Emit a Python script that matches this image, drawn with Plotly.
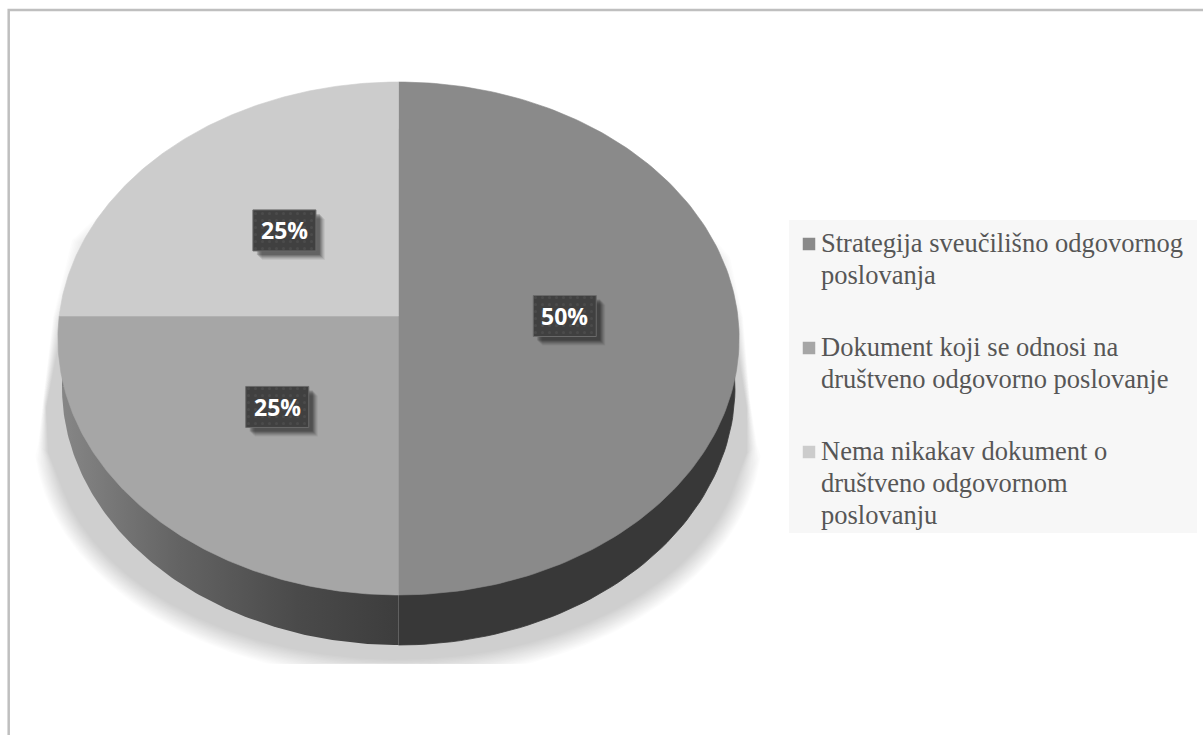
import numpy as np
import plotly.graph_objects as go

# ---- chart data ----
categories = [
    ["Strategija sveučilišno odgovornog", "poslovanja"],
    ["Dokument koji se odnosi na", "društveno odgovorno poslovanje"],
    ["Nema nikakav dokument o", "društveno odgovornom", "poslovanju"],
]
values = [50, 25, 25]
labels = ["50%", "25%", "25%"]
top_colors = ["#8a8a8a", "#a6a6a6", "#cccccc"]

# ---- geometry of the tilted pie (pixels) ----
AX, AY = 398.5, 316.0            # apex of the top face
A, B, K = 339.3, 254.5, 0.0877   # perspective of the top face
WALL_CX, WALL_CY, WALL_RX, WALL_RY = 398.5, 387.0, 336.5, 258.0


def top_xy(theta, r=1.0):
    s, c = np.sin(theta), np.cos(theta)
    w = 1 + K * r * c
    return AX + A * r * s / w, AY - B * r * c / w


def wall_xy(theta):
    return WALL_CX + WALL_RX * np.sin(theta), WALL_CY - WALL_RY * np.cos(theta)


fractions = np.array(values, dtype=float) / sum(values)
edges = np.concatenate([[0], np.cumsum(fractions)]) * 2 * np.pi

fig = go.Figure()

# soft floor shadow: stacked translucent layers
N = 16
LEFT_Y = np.array([190.0, 240.0, 317.0, 400.0, 445.0])
LEFT_X = np.array([125.0, 72.0, 53.0, 43.0, 38.0])
RIGHT_Y = np.array([190.0, 257.0, 317.0, 400.0, 445.0])
RIGHT_X = np.array([672.0, 730.0, 743.0, 750.0, 757.0])
INSET = np.array([24.0, 24.0, 9.0, 3.0, 10.0])
for i in range(N):
    f = i / (N - 1)
    t = np.linspace(np.pi * 0.5 - 0.1, np.pi * 1.5 + 0.1, 200)
    ex = 398 + (364 - 18 * f) * np.sin(t)
    ey = 435 - (245 - 20 * f) * np.cos(t)
    ey = np.minimum(ey, 664)
    keep = ey >= 455 + 30 * f
    xs = np.concatenate([RIGHT_X - INSET * f, ex[keep], (LEFT_X + INSET * f)[::-1]])
    ys = np.concatenate([RIGHT_Y + 8 * f, ey[keep], (LEFT_Y + 8 * f)[::-1]])
    fig.add_trace(go.Scatter(
        x=xs, y=ys, mode="lines", fill="toself", line=dict(width=0),
        fillcolor="rgba(0,0,0,0.0130)", hoverinfo="skip", showlegend=False))

# side walls, then top faces
wall_styles = [
    dict(fillcolor="#383838", line=dict(width=0.8, color="#383838")),
    dict(line=dict(width=0),
         fillgradient=dict(type="horizontal",
                           colorscale=[[0, "#868686"], [0.35, "#636363"], [0.7, "#4a4a4a"], [1, "#3d3d3d"]])),
    dict(fillcolor="#808080", line=dict(width=0)),
]
for i in range(len(values)):
    t = np.linspace(edges[i], edges[i + 1], 120)
    x, y = wall_xy(t)
    x = np.concatenate([[AX], x])
    y = np.concatenate([[AY], y])
    fig.add_trace(go.Scatter(x=x, y=y, mode="lines", fill="toself",
                             hoverinfo="skip", showlegend=False, **wall_styles[i]))

for i in range(len(values)):
    t = np.linspace(edges[i], edges[i + 1], 160)
    x, y = top_xy(t)
    x = np.concatenate([[AX], x, [AX]])
    y = np.concatenate([[AY], y, [AY]])
    fig.add_trace(go.Scatter(x=x, y=y, mode="lines", fill="toself",
                             line=dict(width=0.6, color=top_colors[i]),
                             fillcolor=top_colors[i], hoverinfo="skip", showlegend=False))

# data labels: shadow, dotted box, text
BW, BH = 63, 41
for i, lab in enumerate(labels):
    mid = (edges[i] + edges[i + 1]) / 2
    cx, cy = top_xy(mid, 0.49)
    bx = np.array([cx - BW / 2, cx + BW / 2, cx + BW / 2, cx - BW / 2, cx - BW / 2])
    by = np.array([cy - BH / 2, cy - BH / 2, cy + BH / 2, cy + BH / 2, cy - BH / 2])
    for o, a in [(9, 0.06), (8, 0.08), (7, 0.10), (6, 0.12), (5, 0.14), (4, 0.16)]:
        fig.add_trace(go.Scatter(x=bx + o, y=by + o, mode="lines", fill="toself", line=dict(width=0),
                                 fillcolor=f"rgba(0,0,0,{a})", hoverinfo="skip", showlegend=False))
    fig.add_trace(go.Scatter(x=bx, y=by, mode="lines", fill="toself", line=dict(width=1, color="#6a6a6a"),
                             fillcolor="#404040",
                             fillpattern=dict(shape=".", size=7, solidity=0.15, fgcolor="#555555", bgcolor="#404040"),
                             hoverinfo="skip", showlegend=False))
    fig.add_annotation(x=cx, y=cy, text=f"<b>{lab}</b>", showarrow=False,
                       font=dict(family="Open Sans", size=23, color="#ffffff"))

# legend: panel, square keys, text lines
LEG_MARK_X, LEG_TEXT_X = 809, 819
LEG_FIRST_LINES = [243, 347, 451]
LEG_LINE_H = 32
for i, lines in enumerate(categories):
    y0 = LEG_FIRST_LINES[i]
    fig.add_trace(go.Scatter(x=[LEG_MARK_X], y=[y0 + 1], mode="markers", name=" ".join(lines),
                             marker=dict(symbol="square", size=12.5, color=top_colors[i], line=dict(width=0)),
                             hoverinfo="name", showlegend=False))
    for j, line in enumerate(lines):
        fig.add_annotation(x=LEG_TEXT_X, y=y0 + j * LEG_LINE_H, text=line, showarrow=False, xanchor="left",
                           font=dict(family="Liberation Serif", size=26.5, color="#565656"))

fig.update_layout(
    width=1203, height=735, autosize=False,
    margin=dict(l=0, r=0, t=0, b=0),
    paper_bgcolor="#ffffff", plot_bgcolor="#ffffff",
    showlegend=False,
    xaxis=dict(range=[0, 1203], visible=False, fixedrange=True),
    yaxis=dict(range=[735, 0], visible=False, fixedrange=True),
    shapes=[
        dict(type="rect", xref="x", yref="y", x0=789, x1=1197, y0=220, y1=533,
             line=dict(width=0), fillcolor="#f7f7f7", layer="below"),
        dict(type="rect", xref="x", yref="y", x0=8.7, x1=1230, y0=10, y1=760,
             line=dict(color="#bfbfbf", width=2.5), fillcolor="rgba(0,0,0,0)", layer="above"),
    ],
)

fig.write_html("out.html", config=dict(displayModeBar=False),
               post_script="document.body.style.margin='0';")
